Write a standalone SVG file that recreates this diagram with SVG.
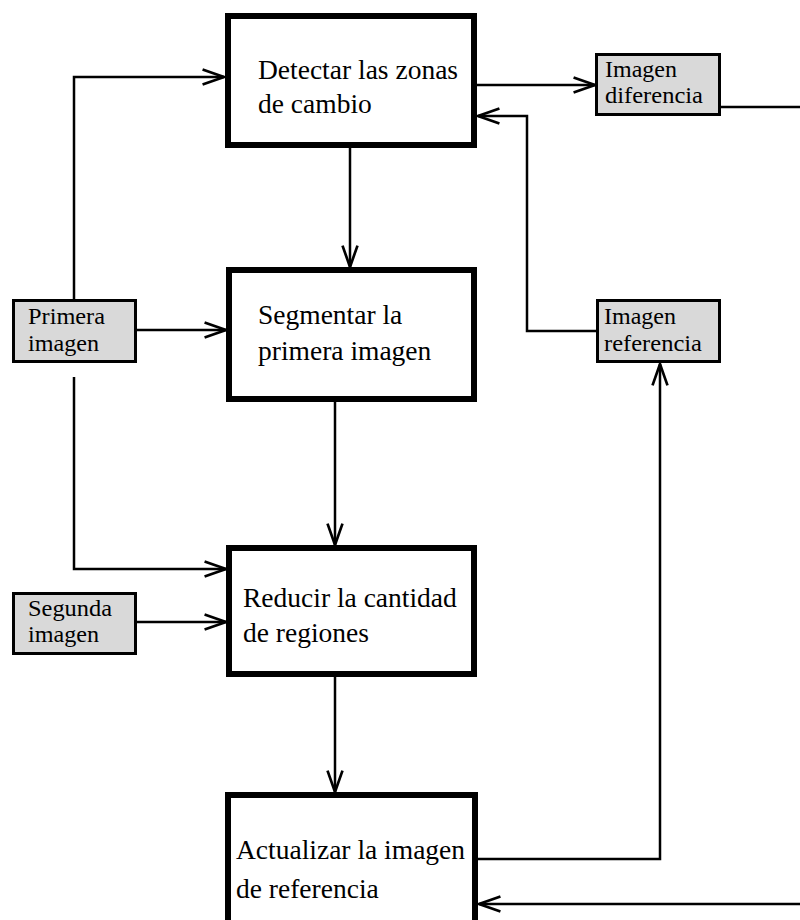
<svg xmlns="http://www.w3.org/2000/svg" width="800" height="920" viewBox="0 0 800 920">
<defs>
<marker id="arr" markerUnits="userSpaceOnUse" markerWidth="30" markerHeight="30" refX="0" refY="0" viewBox="-24 -12 28 24" orient="auto" overflow="visible">
<path d="M-20,-7 L0,0 L-20,7" fill="none" stroke="#000" stroke-width="2.5"/>
</marker>
<style>
.big{fill:#fff;stroke:#000;stroke-width:6}
.small{fill:#d9d9d9;stroke:#000;stroke-width:3}
.bt{font-family:"Liberation Serif","Times New Roman",serif;font-size:27.5px;fill:#000}
.st{font-family:"Liberation Serif","Times New Roman",serif;font-size:22.5px;fill:#000}
.c{fill:none;stroke:#000;stroke-width:2.5}
</style>
</defs>
<rect width="800" height="920" fill="#fff"/>
<g id="connectors">
<path class="c" d="M74,299 V77 H224" marker-end="url(#arr)"/>
<path class="c" d="M137,330 H226" marker-end="url(#arr)"/>
<path class="c" d="M74,377 V569 H226" marker-end="url(#arr)"/>
<path class="c" d="M137,622 H226" marker-end="url(#arr)"/>
<path class="c" d="M350,148 V267" marker-end="url(#arr)"/>
<path class="c" d="M335,402 V545" marker-end="url(#arr)"/>
<path class="c" d="M335,677 V792" marker-end="url(#arr)"/>
<path class="c" d="M477,85 H595" marker-end="url(#arr)"/>
<path class="c" d="M721,107 H800"/>
<path class="c" d="M597,331 H527 V116 H478" marker-end="url(#arr)"/>
<path class="c" d="M478,859 H660 V364" marker-end="url(#arr)"/>
<path class="c" d="M800,904 H479" marker-end="url(#arr)"/>
</g>
<g id="detectar">
<rect class="big" x="228" y="16" width="246" height="129"/>
<text class="bt" x="258" y="79">Detectar las zonas</text>
<text class="bt" x="258" y="113">de cambio</text>
</g>
<g id="segmentar">
<rect class="big" x="229" y="270" width="245" height="129"/>
<text class="bt" x="258" y="324">Segmentar la</text>
<text class="bt" x="258" y="360">primera imagen</text>
</g>
<g id="reducir">
<rect class="big" x="229" y="548" width="245" height="126"/>
<text class="bt" x="243" y="607">Reducir la cantidad</text>
<text class="bt" x="243" y="642">de regiones</text>
</g>
<g id="actualizar">
<rect class="big" x="228" y="795" width="247" height="140"/>
<text class="bt" x="236" y="859">Actualizar la imagen</text>
<text class="bt" x="236" y="898">de referencia</text>
</g>
<g id="imagen-diferencia">
<rect class="small" x="596.5" y="54.5" width="123" height="60"/>
<text class="st" x="605" y="77" textLength="72" lengthAdjust="spacingAndGlyphs">Imagen</text>
<text class="st" x="605" y="103" textLength="98" lengthAdjust="spacingAndGlyphs">diferencia</text>
</g>
<g id="imagen-referencia">
<rect class="small" x="597.5" y="300.5" width="122" height="61"/>
<text class="st" x="604" y="324" textLength="72" lengthAdjust="spacingAndGlyphs">Imagen</text>
<text class="st" x="604" y="351" textLength="98" lengthAdjust="spacingAndGlyphs">referencia</text>
</g>
<g id="primera-imagen">
<rect class="small" x="13.5" y="300.5" width="122" height="61"/>
<text class="st" x="28" y="324" textLength="77" lengthAdjust="spacingAndGlyphs">Primera</text>
<text class="st" x="28" y="351" textLength="71" lengthAdjust="spacingAndGlyphs">imagen</text>
</g>
<g id="segunda-imagen">
<rect class="small" x="13.5" y="593.5" width="122" height="60"/>
<text class="st" x="28" y="616" textLength="84" lengthAdjust="spacingAndGlyphs">Segunda</text>
<text class="st" x="28" y="642" textLength="71" lengthAdjust="spacingAndGlyphs">imagen</text>
</g>
</svg>
